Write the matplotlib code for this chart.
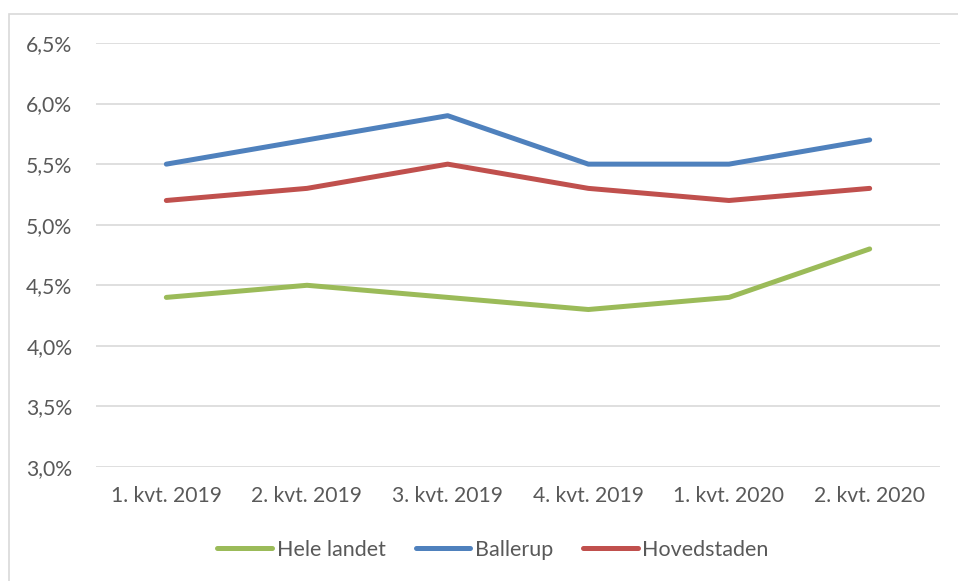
import matplotlib.pyplot as plt
from matplotlib.patches import Rectangle
from matplotlib.ticker import FuncFormatter

plt.rcParams['font.family'] = ['Lato', 'DejaVu Sans']

# data
kvartaler = ["1. kvt. 2019", "2. kvt. 2019", "3. kvt. 2019",
             "4. kvt. 2019", "1. kvt. 2020", "2. kvt. 2020"]
hele_landet = [4.4, 4.5, 4.4, 4.3, 4.4, 4.8]
ballerup = [5.5, 5.7, 5.9, 5.5, 5.5, 5.7]
hovedstaden = [5.2, 5.3, 5.5, 5.3, 5.2, 5.3]

farver = {"Hele landet": "#9BBB59", "Ballerup": "#4F81BD", "Hovedstaden": "#C0504D"}
tekst = "#595959"

fig = plt.figure(figsize=(9.58, 5.81), dpi=100)
ax = fig.add_axes([96/958, 1 - 467/581, 844/958, 424/581])

# ramme om diagrammet
fig.patches.append(Rectangle((9/958, -0.1), 1.2, 1.1 - 14/581, transform=fig.transFigure,
                             fill=False, edgecolor="#d9d9d9", linewidth=1.2))

x = range(len(kvartaler))
for navn, vals in [("Hele landet", hele_landet), ("Ballerup", ballerup), ("Hovedstaden", hovedstaden)]:
    ax.plot(x, vals, color=farver[navn], linewidth=3.6, solid_capstyle='round',
            solid_joinstyle='round', label=navn)

ax.set_xlim(-0.5, 5.5)
ax.set_ylim(3.0, 6.5)
ax.set_yticks([3.0, 3.5, 4.0, 4.5, 5.0, 5.5, 6.0, 6.5])
ax.yaxis.set_major_formatter(FuncFormatter(lambda v, p: f"{v:.1f}%".replace(".", ",")))
ax.set_xticks(list(x))
ax.set_xticklabels(kvartaler)
ax.grid(axis='y', color="#d9d9d9", linewidth=1.2)
ax.set_axisbelow(True)
for s in ax.spines.values():
    s.set_visible(False)
ax.tick_params(length=0, labelsize=15.2, colors=tekst)
ax.tick_params(axis='y', pad=17)
ax.tick_params(axis='x', pad=14)

fig.legend(loc='center', bbox_to_anchor=(493/958, 1 - 550/581), ncol=3, frameon=False,
           fontsize=15.5, labelcolor=tekst, handlelength=2.55, handletextpad=0.2,
           columnspacing=1.4)

fig.savefig("out.png", dpi=100)
